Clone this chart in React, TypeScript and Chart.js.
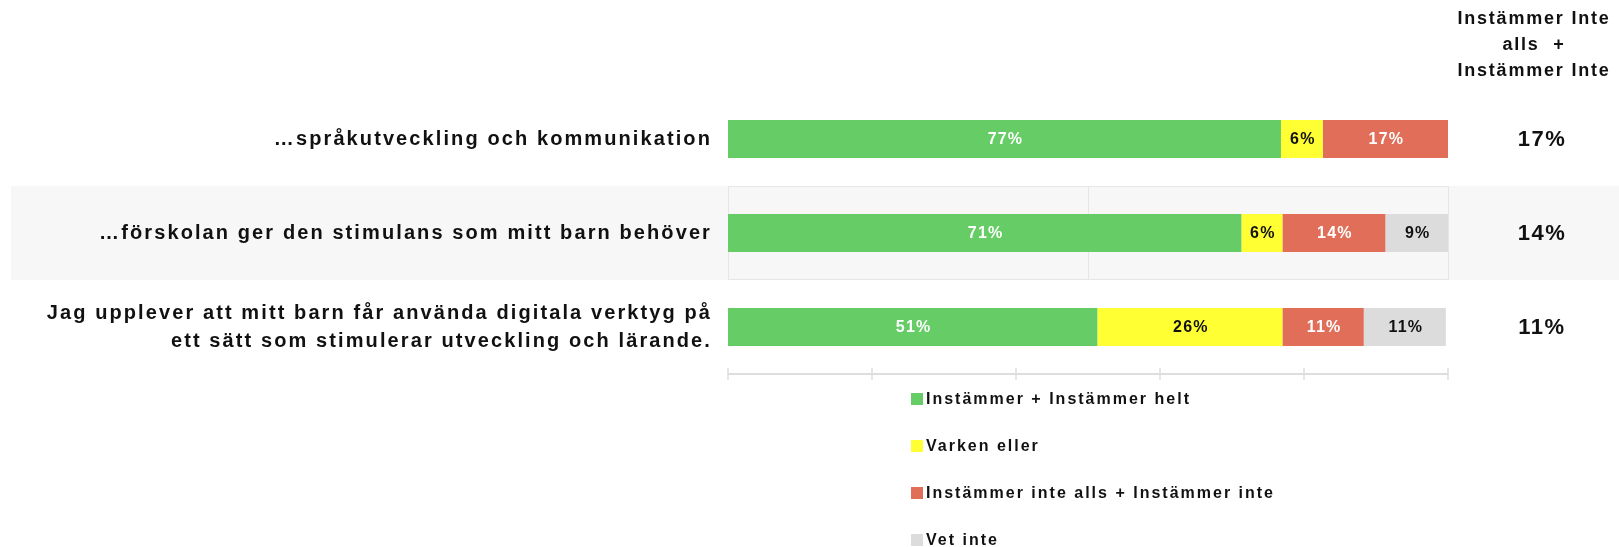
import React, { useEffect, useRef } from 'react';
import { Chart, registerables } from 'chart.js';

Chart.register(...registerables);

const categories: string[][] = [
  ['…språkutveckling och kommunikation'],
  ['…förskolan ger den stimulans som mitt barn behöver'],
  ['Jag upplever att mitt barn får använda digitala verktyg på', 'ett sätt som stimulerar utveckling och lärande.'],
];
const seriesNames = ['Instämmer + Instämmer helt', 'Varken eller', 'Instämmer inte alls + Instämmer inte', 'Vet inte'];
const agree = [76.8, 71.3, 51.3];
const neutral = [5.8, 5.7, 25.7];
const disagree = [17.4, 14.3, 11.3];
const dontKnow: (number | null)[] = [null, 8.7, 11.4];
const disagreeTotals = ['17%', '14%', '11%'];
const headerLines = ['Instämmer Inte', 'alls  +', 'Instämmer Inte'];
const xTicks = [0, 20, 40, 60, 80, 100];
const highlightRow = 1;

const colors = ['#66cc66', '#ffff33', '#e06e58', '#dcdcdc'];
const labelColors = ['#ffffff', '#111111', '#ffffff', '#111111'];
const FONT = '"Liberation Sans", Arial, sans-serif';

const overlay = {
  id: 'overlay',
  beforeDatasetsDraw(chart: any) {
    const { ctx, chartArea, scales } = chart;
    const xs = scales.x;
    const ys = scales.y;
    const step = ys.getPixelForValue(1) - ys.getPixelForValue(0);
    const cy = ys.getPixelForValue(highlightRow);
    const top = Math.round(cy - step / 2);
    const h = Math.round(step);
    ctx.save();
    ctx.fillStyle = '#f7f7f7';
    ctx.fillRect(11, top, chart.width - 11, h);
    ctx.strokeStyle = '#e6e6e6';
    ctx.lineWidth = 1;
    ctx.strokeRect(Math.round(chartArea.left) + 0.5, top + 0.5, Math.round(chartArea.right - chartArea.left), h - 1);
    const mx = Math.round(xs.getPixelForValue(50)) + 0.5;
    ctx.beginPath();
    ctx.moveTo(mx, top);
    ctx.lineTo(mx, top + h);
    ctx.stroke();
    // bottom axis
    const ay = Math.round(chartArea.bottom);
    ctx.strokeStyle = '#dedede';
    ctx.lineWidth = 2;
    ctx.beginPath();
    ctx.moveTo(chartArea.left, ay);
    ctx.lineTo(chartArea.right, ay);
    ctx.stroke();
    ctx.lineWidth = 1.5;
    xTicks.forEach((v) => {
      const x = Math.round(xs.getPixelForValue(v));
      ctx.beginPath();
      ctx.moveTo(x, ay - 6);
      ctx.lineTo(x, ay + 6);
      ctx.stroke();
    });
    ctx.restore();
  },
  afterDatasetsDraw(chart: any) {
    const { ctx, chartArea, scales } = chart;
    const ys = scales.y;
    ctx.save();
    ctx.textBaseline = 'middle';
    // bar value labels
    chart.data.datasets.forEach((ds: any, di: number) => {
      const meta = chart.getDatasetMeta(di);
      meta.data.forEach((el: any, i: number) => {
        const v = ds.data[i];
        if (v == null || v === 0) return;
        ctx.font = `bold 16px ${FONT}`;
        (ctx as any).letterSpacing = '1.2px';
        ctx.fillStyle = labelColors[di];
        ctx.textAlign = 'center';
        ctx.fillText(Math.round(v) + '%', (el.x + el.base) / 2 + 1, el.y + 1);
      });
    });
    // category labels
    ctx.fillStyle = '#111111';
    ctx.textAlign = 'right';
    ctx.font = `bold 20px ${FONT}`;
    (ctx as any).letterSpacing = '2.1px';
    categories.forEach((lines, i) => {
      const cy = ys.getPixelForValue(i);
      const lh = 28;
      lines.forEach((t, k) => {
        const y = cy + (k - (lines.length - 1) / 2) * lh;
        ctx.fillText(t, chartArea.left - 16, y);
      });
    });
    // right-hand totals
    ctx.textAlign = 'center';
    ctx.font = `bold 22px ${FONT}`;
    (ctx as any).letterSpacing = '1.5px';
    disagreeTotals.forEach((t, i) => {
      ctx.fillText(t, 1542, ys.getPixelForValue(i) + 1);
    });
    // header
    ctx.font = `bold 18px ${FONT}`;
    (ctx as any).letterSpacing = '1.8px';
    headerLines.forEach((t, k) => {
      ctx.fillText(t, 1534, 19 + k * 26);
    });
    // legend
    ctx.textAlign = 'left';
    ctx.font = `bold 16px ${FONT}`;
    (ctx as any).letterSpacing = '2px';
    chart.data.datasets.forEach((ds: any, di: number) => {
      const y = 399 + di * 47;
      ctx.fillStyle = ds.backgroundColor;
      ctx.fillRect(911, y - 6, 12, 12);
      ctx.fillStyle = '#111111';
      ctx.fillText(ds.label, 926, y + 1);
    });
    ctx.restore();
  },
};

export default function App() {
  const ref = useRef<HTMLCanvasElement | null>(null);
  useEffect(() => {
    document.body.style.margin = '0';
    const values = [agree, neutral, disagree, dontKnow];
    const chart = new Chart(ref.current as HTMLCanvasElement, {
      type: 'bar',
      data: {
        labels: categories.map((c) => c.join(' ')),
        datasets: values.map((d, i) => ({
          label: seriesNames[i],
          data: d as any,
          backgroundColor: colors[i],
          borderWidth: 0,
          barPercentage: 0.404,
          categoryPercentage: 1,
        })),
      },
      options: {
        indexAxis: 'y',
        responsive: false,
        animation: false,
        layout: { padding: { left: 728, right: 171, top: 92, bottom: 173 } },
        plugins: { legend: { display: false }, tooltip: { enabled: false } },
        scales: {
          x: { stacked: true, min: 0, max: 100, display: false },
          y: { stacked: true, display: false },
        },
      },
      plugins: [overlay],
    });
    return () => chart.destroy();
  }, []);
  return (
    <div style={{ width: 1619, height: 547, background: '#ffffff' }}>
      <canvas ref={ref} width={1619} height={547} style={{ display: 'block' }} />
    </div>
  );
}
